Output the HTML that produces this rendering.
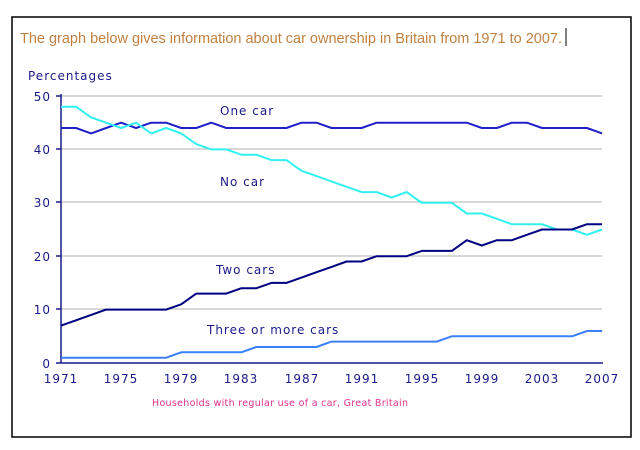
<!DOCTYPE html>
<html><head><style>
body{margin:0;background:#fff;width:640px;height:450px;overflow:hidden}
</style></head><body>
<svg width="640" height="450" xmlns="http://www.w3.org/2000/svg" style="position:absolute;left:0;top:0">
<rect x="12" y="17" width="619" height="420" fill="#fff" stroke="#000" stroke-width="1.5"/>
<text x="20" y="43" font-family="Liberation Sans, sans-serif" font-size="14.5" fill="#c08040" textLength="542" lengthAdjust="spacingAndGlyphs">The graph below gives information about car ownership in Britain from 1971 to 2007.</text>
<line x1="566" y1="28" x2="566" y2="46" stroke="#000" stroke-width="1"/>
<text x="28" y="80" font-family="DejaVu Sans, sans-serif" font-size="12" fill="#1a1a8a" letter-spacing="1">Percentages</text>
<g stroke="#b0b0b0" stroke-width="1">
<line x1="61" y1="96" x2="602" y2="96"/><line x1="61" y1="149" x2="602" y2="149"/><line x1="61" y1="202" x2="602" y2="202"/><line x1="61" y1="256" x2="602" y2="256"/><line x1="61" y1="309" x2="602" y2="309"/>
</g>
<g stroke="#1a1a8a" stroke-width="1.5">
<line x1="61" y1="94" x2="61" y2="363"/><line x1="61" y1="363" x2="603" y2="363"/>
<line x1="56" y1="96" x2="61" y2="96"/><line x1="56" y1="149" x2="61" y2="149"/><line x1="56" y1="202" x2="61" y2="202"/><line x1="56" y1="256" x2="61" y2="256"/><line x1="56" y1="309" x2="61" y2="309"/><line x1="56" y1="363" x2="61" y2="363"/>
</g>
<g font-family="DejaVu Sans, sans-serif" font-size="12" fill="#1a1a8a" letter-spacing="1">
<text x="51" y="101" text-anchor="end">50</text><text x="51" y="154" text-anchor="end">40</text><text x="51" y="207" text-anchor="end">30</text><text x="51" y="261" text-anchor="end">20</text><text x="51" y="314" text-anchor="end">10</text><text x="51" y="368" text-anchor="end">0</text>
<g text-anchor="middle">
<text x="61" y="383">1971</text><text x="121" y="383">1975</text><text x="181" y="383">1979</text><text x="241" y="383">1983</text><text x="302" y="383">1987</text><text x="362" y="383">1991</text><text x="422" y="383">1995</text><text x="482" y="383">1999</text><text x="542" y="383">2003</text><text x="602" y="383">2007</text>
</g>
<text x="220" y="115">One car</text>
<text x="220" y="186">No car</text>
<text x="216" y="274">Two cars</text>
<text x="207" y="334">Three or more cars</text>
</g>
<text x="152" y="406" font-family="DejaVu Sans, sans-serif" font-size="9.5" fill="#e0308a" letter-spacing="0.3">Households with regular use of a car, Great Britain</text>
<g fill="none" stroke-width="2" stroke-linejoin="round">
<polyline id="one" stroke="#2020c8" points=""/>
<polyline id="no" stroke="#33f0f0" points=""/>
<polyline id="two" stroke="#000080" points=""/>
<polyline id="three" stroke="#3a80ff" points=""/>
</g>
</svg>
<script>
function pts(a){return a.map((v,i)=>(61+i*15.03).toFixed(1)+","+(363-v*5.34).toFixed(1)).join(" ");}
document.getElementById("one").setAttribute("points",pts([44,44,43,44,45,44,45,45,44,44,45,44,44,44,44,44,45,45,44,44,44,45,45,45,45,45,45,45,44,44,45,45,44,44,44,44,43]));
document.getElementById("no").setAttribute("points",pts([48,48,46,45,44,45,43,44,43,41,40,40,39,39,38,38,36,35,34,33,32,32,31,32,30,30,30,28,28,27,26,26,26,25,25,24,25]));
document.getElementById("two").setAttribute("points",pts([7,8,9,10,10,10,10,10,11,13,13,13,14,14,15,15,16,17,18,19,19,20,20,20,21,21,21,23,22,23,23,24,25,25,25,26,26]));
document.getElementById("three").setAttribute("points",pts([1,1,1,1,1,1,1,1,2,2,2,2,2,3,3,3,3,3,4,4,4,4,4,4,4,4,5,5,5,5,5,5,5,5,5,6,6]));
</script>
</body></html>
